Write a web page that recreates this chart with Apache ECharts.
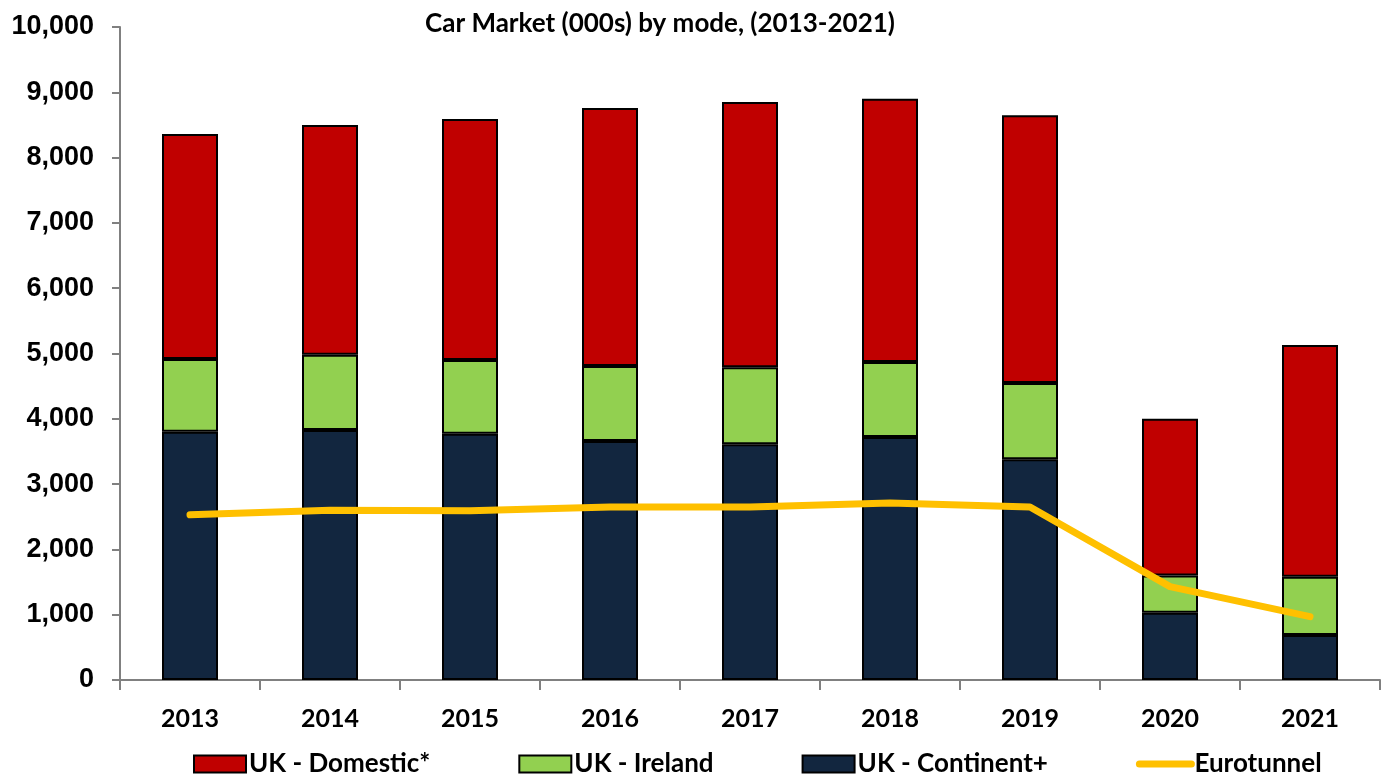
<!DOCTYPE html>
<html>
<head>
<meta charset="utf-8">
<script src="https://cdn.jsdelivr.net/npm/echarts@6/dist/echarts.min.js"></script>
<style>
  html, body { margin: 0; padding: 0; background: #fff; }
  #main { width: 1386px; height: 776px; }
</style>
</head>
<body>
<div id="main"></div>
<script>
// 年份
const years = ['2013', '2014', '2015', '2016', '2017', '2018', '2019', '2020', '2021'];
// 各模式车辆数 (000s)
const continentData = [3800, 3830, 3770, 3660, 3610, 3720, 3380, 1030, 690];
const irelandData = [1115, 1150, 1130, 1150, 1180, 1150, 1170, 570, 890];
const domesticData = [3445, 3520, 3690, 3950, 4060, 4030, 4100, 2400, 3550];
const eurotunnelData = [2530, 2600, 2590, 2650, 2650, 2710, 2650, 1430, 970];

const barBorder = { borderColor: '#000', borderWidth: 2 };

var dom = document.getElementById('main');
var myChart = echarts.init(dom, null, { renderer: 'canvas' });

var option = {
    animation: false,
    title: {
        text: 'Car Market (000s) by mode, (2013-2021)',
        left: 655,
        textAlign: 'center',
        top: 6,
        textStyle: {
            fontFamily: 'Lato',
            fontWeight: 'bold',
            fontSize: 26,
            color: '#000'
        }
    },
    legend: {
        left: 188,
        top: 746,
        itemWidth: 52,
        itemHeight: 17,
        itemGap: 88,
        textStyle: {
            fontFamily: 'Lato',
            fontWeight: 'bold',
            fontSize: 26,
            color: '#000',
            padding: [0, 0, 0, -2]
        },
        data: [
            { name: 'UK - Domestic*', icon: 'rect' },
            { name: 'UK - Ireland', icon: 'rect' },
            { name: 'UK - Continent+', icon: 'rect' },
            {
                name: 'Eurotunnel',
                itemStyle: { opacity: 0 },
                lineStyle: { width: 7, cap: 'round', color: '#FFC000' }
            }
        ]
    },
    grid: {
        left: 120,
        right: 6,
        top: 27,
        bottom: 96,
        containLabel: false
    },
    xAxis: {
        type: 'category',
        data: years,
        axisLine: { lineStyle: { color: '#808080', width: 2 } },
        axisTick: { show: true, length: 10, lineStyle: { color: '#808080', width: 2 } },
        axisLabel: {
            margin: 26,
            fontFamily: 'Lato',
            fontWeight: 'bold',
            fontSize: 25,
            color: '#000'
        }
    },
    yAxis: {
        type: 'value',
        min: 0,
        max: 10000,
        interval: 1000,
        splitLine: { show: false },
        axisLine: { show: true, lineStyle: { color: '#808080', width: 2 } },
        axisTick: { show: true, length: 8, lineStyle: { color: '#808080', width: 2 } },
        axisLabel: {
            margin: 26,
            fontFamily: 'Liberation Sans',
            fontWeight: 'bold',
            fontSize: 27,
            color: '#000',
            formatter: function (v) { return v.toLocaleString('en-US'); }
        }
    },
    series: [
        {
            name: 'UK - Continent+',
            type: 'bar',
            stack: 'total',
            barWidth: 56,
            data: continentData,
            itemStyle: Object.assign({ color: '#12263F' }, barBorder)
        },
        {
            name: 'UK - Ireland',
            type: 'bar',
            stack: 'total',
            barWidth: 56,
            data: irelandData,
            itemStyle: Object.assign({ color: '#92D050' }, barBorder)
        },
        {
            name: 'UK - Domestic*',
            type: 'bar',
            stack: 'total',
            barWidth: 56,
            data: domesticData,
            itemStyle: Object.assign({ color: '#C00000' }, barBorder)
        },
        {
            name: 'Eurotunnel',
            type: 'line',
            data: eurotunnelData,
            symbol: 'none',
            z: 5,
            lineStyle: { color: '#FFC000', width: 7, cap: 'round', join: 'round' },
            itemStyle: { color: '#FFC000' }
        }
    ]
};

myChart.setOption(option);
window.addEventListener('resize', myChart.resize);
</script>
</body>
</html>
